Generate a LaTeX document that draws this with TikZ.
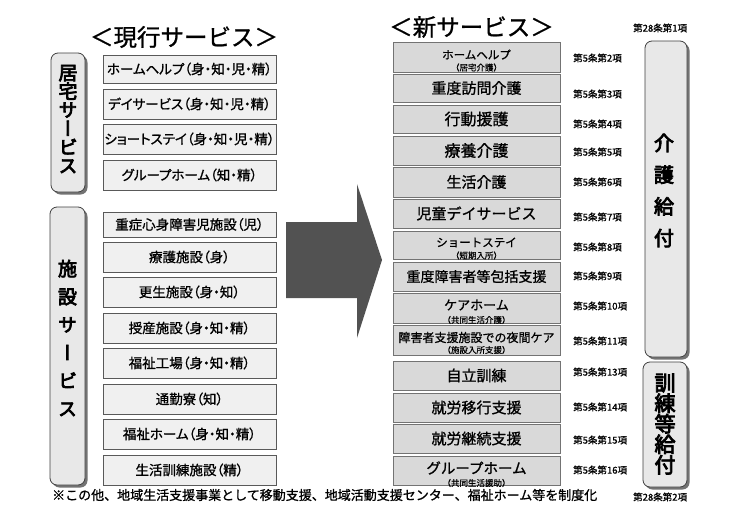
\documentclass[tikz,border=0pt]{standalone}
\usepackage{fontspec}
\setmainfont{Noto Sans CJK JP}[FakeBold=1]
\newfontfamily\jpv{Noto Sans CJK JP}[RawFeature=+vert,FakeBold=4]
\newfontfamily\jpp{Noto Sans CJK JP}[RawFeature=+palt,FakeBold=1]
\newfontfamily\jpb{Noto Sans CJK JP}[FakeBold=4]
\newfontfamily\jps{Noto Sans CJK JP}[FakeBold=0.5]
\usetikzlibrary{shadows}
\begin{document}
\begin{tikzpicture}[x=1pt,y=-1pt,
  oldbox/.style={draw=black!65, fill=black!6, line width=0.6pt, inner sep=0pt,
    minimum width=173pt, minimum height=30pt, font=\jpp\fontsize{13.5}{14}\selectfont},
  newbox/.style={draw=black!55, fill=black!15, line width=0.6pt, inner sep=0pt,
    minimum width=167pt, minimum height=29pt,
    drop shadow={shadow xshift=0.8pt, shadow yshift=-1.2pt, fill=black!55, opacity=1}},
  bigtxt/.style={inner sep=0pt, font=\fontsize{15}{17}\selectfont},
  subtxt/.style={inner sep=0pt, font=\jps\fontsize{8.5}{9}\selectfont},
  sidebox/.style={draw=black!75, fill=black!9, line width=0.8pt, rounded corners=7pt,
    inner sep=0pt, drop shadow={shadow xshift=2.5pt, shadow yshift=-2.5pt, fill=black!55, opacity=1}},
  sidetxt/.style={inner sep=0pt, align=center},
  lawtxt/.style={inner sep=0pt, anchor=west, font=\fontsize{9.5}{10}\selectfont},
  titletxt/.style={inner sep=0pt, font=\fontsize{23.5}{26}\selectfont}
]
\useasboundingbox[fill=white] (0,0) rectangle (740,520);

% titles
\node[titletxt] (t1) at (184,37) {＜現行サービス＞};
\node[titletxt] (t2) at (471.5,27) {＜新サービス＞};

% left side labels
\node[sidebox, minimum width=34pt, minimum height=139pt] (kyo) at (68,122.5) {};
\node[sidetxt, font=\jpv\fontsize{19}{18.6}\selectfont] (kyot) at (68,119) {居\\宅\\サ\\ー\\ビ\\ス};
\node[sidebox, minimum width=35pt, minimum height=278pt] (shi) at (67.5,346) {};
\node[sidetxt, font=\jpv\fontsize{19}{28}\selectfont] (shit) at (67.5,338) {施\\設\\サ\\ー\\ビ\\ス};

% left boxes
\node[oldbox, minimum height=28pt] (o1) at (189.5,69) {ホームヘルプ（身・知・児・精）};
\node[oldbox] (o2) at (189.5,104) {デイサービス（身・知・児・精）};
\node[oldbox] (o3) at (189.5,139) {ショートステイ（身・知・児・精）};
\node[oldbox] (o4) at (189.5,175) {グループホーム（知・精）};
\node[oldbox, minimum height=25pt] (o5) at (189.5,224.5) {重症心身障害児施設（児）};
\node[oldbox] (o6) at (189.5,257) {療護施設（身）};
\node[oldbox] (o7) at (189.5,292) {更生施設（身・知）};
\node[oldbox] (o8) at (189.5,328) {授産施設（身・知・精）};
\node[oldbox] (o9) at (189.5,363) {福祉工場（身・知・精）};
\node[oldbox] (o10) at (189.5,399) {通勤寮（知）};
\node[oldbox] (o11) at (189.5,434) {福祉ホーム（身・知・精）};
\node[oldbox] (o12) at (189.5,470) {生活訓練施設（精）};

% big arrow
\fill[black!68] (286,222) -- (357,222) -- (357,184) -- (382,260) -- (357,338)
  -- (357,298) -- (286,298) -- cycle;

% right boxes
\node[newbox, minimum height=30pt] (n1) at (476.5,57) {};
\node[inner sep=0pt, font=\fontsize{11.5}{12}\selectfont] (n1a) at (476.5,54.5) {ホームヘルプ};
\node[subtxt] (n1b) at (476.5,67.5) {（居宅介護）};
\node[newbox, minimum height=28pt] (n2) at (476.5,88) {};
\node[bigtxt] (n2a) at (476.5,88) {重度訪問介護};
\node[newbox, minimum height=28pt] (n3) at (476.5,119) {};
\node[bigtxt, font=\fontsize{16}{17}\selectfont] (n3a) at (476.5,119) {行動援護};
\node[newbox] (n4) at (476.5,150.5) {};
\node[bigtxt, font=\fontsize{16}{17}\selectfont] (n4a) at (476.5,150.5) {療養介護};
\node[newbox, minimum height=30pt] (n5) at (476.5,182) {};
\node[bigtxt] (n5a) at (476.5,182) {生活介護};
\node[newbox] (n6) at (476.5,213.5) {};
\node[bigtxt] (n6a) at (476.5,213.5) {児童デイサービス};
\node[newbox, minimum height=28pt] (n7) at (476.5,245) {};
\node[inner sep=0pt, font=\fontsize{11.5}{12}\selectfont] (n7a) at (476.5,242.5) {ショートステイ};
\node[subtxt] (n7b) at (476.5,255.5) {（短期入所）};
\node[newbox] (n8) at (476.5,276.5) {};
\node[bigtxt, font=\fontsize{14}{15}\selectfont] (n8a) at (476.5,276.5) {重度障害者等包括支援};
\node[newbox, minimum height=30pt] (n9) at (476.5,308) {};
\node[inner sep=0pt, font=\fontsize{13}{14}\selectfont] (n9a) at (476.5,305) {ケアホーム};
\node[subtxt] (n9b) at (476.5,320) {（共同生活介護）};
\node[newbox, minimum height=30pt] (n10) at (476.5,340) {};
\node[inner sep=0pt, font=\fontsize{12}{13}\selectfont] (n10a) at (476.5,337.5) {障害者支援施設での夜間ケア};
\node[subtxt] (n10b) at (476.5,350) {（施設入所支援）};
\node[newbox] (n11) at (476.5,375.5) {};
\node[bigtxt] (n11a) at (476.5,375.5) {自立訓練};
\node[newbox] (n12) at (476.5,407.5) {};
\node[bigtxt] (n12a) at (476.5,407.5) {就労移行支援};
\node[newbox] (n13) at (476.5,438.5) {};
\node[bigtxt] (n13a) at (476.5,438.5) {就労継続支援};
\node[newbox] (n14) at (476.5,470.5) {};
\node[bigtxt, font=\fontsize{14.5}{15}\selectfont] (n14a) at (476.5,468) {グループホーム};
\node[subtxt] (n14b) at (476.5,483) {（共同生活援助）};

% law labels
\node[lawtxt] (l2) at (573,58) {第5条第2項};
\node[lawtxt] (l3) at (573,94) {第5条第3項};
\node[lawtxt] (l4) at (573,124) {第5条第4項};
\node[lawtxt] (l5) at (573,152) {第5条第5項};
\node[lawtxt] (l6) at (573,182) {第5条第6項};
\node[lawtxt] (l7) at (573,217) {第5条第7項};
\node[lawtxt] (l8) at (573,247) {第5条第8項};
\node[lawtxt] (l9) at (573,276) {第5条第9項};
\node[lawtxt] (l10) at (573,306) {第5条第10項};
\node[lawtxt] (l11) at (573,341) {第5条第11項};
\node[lawtxt] (l13) at (573,372) {第5条第13項};
\node[lawtxt] (l14) at (573,407) {第5条第14項};
\node[lawtxt] (l15) at (573,440) {第5条第15項};
\node[lawtxt] (l16) at (573,470) {第5条第16項};
\node[lawtxt] (l281) at (633,28) {第28条第1項};
\node[lawtxt] (l282) at (633,497) {第28条第2項};

% right side labels
\node[sidebox, minimum width=42pt, minimum height=316pt] (kai) at (666,199) {};
\node[sidetxt, font=\jpb\fontsize{20}{31.7}\selectfont] (kait) at (664,190.5) {介\\護\\給\\付};
\node[sidebox, minimum width=44pt, minimum height=125pt] (kun) at (665,424.5) {};
\node[sidetxt, font=\jpb\fontsize{21}{20.5}\selectfont] (kunt) at (665,424) {訓\\練\\等\\給\\付};

% note
\node[inner sep=0pt, anchor=west, font=\fontsize{13}{14}\selectfont] (note) at (52,495) {※この他、地域生活支援事業として移動支援、地域活動支援センター、福祉ホーム等を制度化};
\end{tikzpicture}
\end{document}
